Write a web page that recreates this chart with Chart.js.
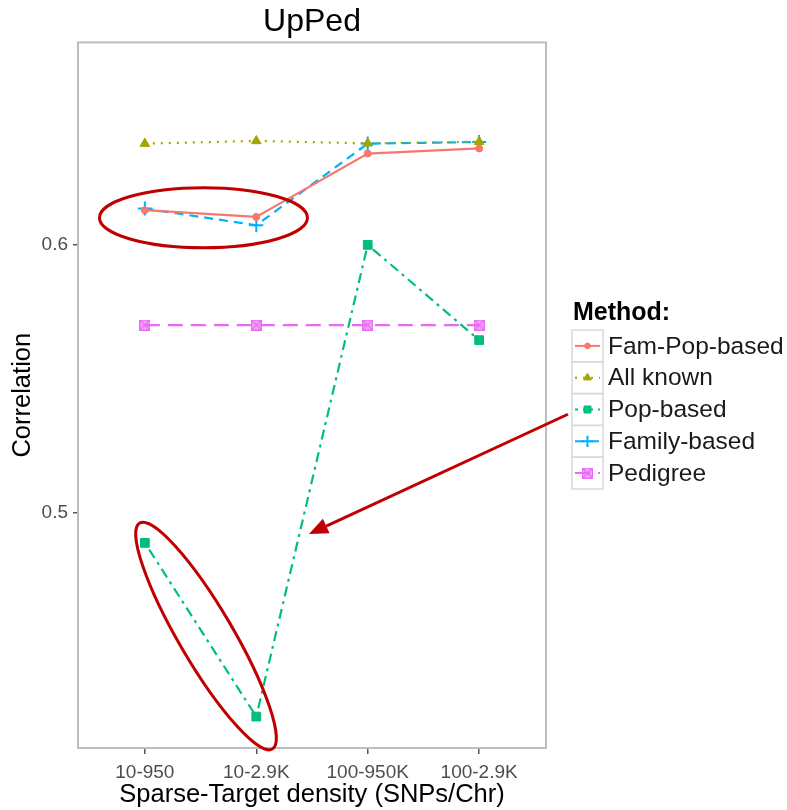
<!DOCTYPE html>
<html>
<head>
<meta charset="utf-8">
<script src="https://cdn.jsdelivr.net/npm/chart.js@4.4.0/dist/chart.umd.min.js"></script>
<style>
html, body { margin: 0; padding: 0; background: #fff; }
</style>
</head>
<body>
<canvas id="lineChart" width="787" height="810"></canvas>
<script>
// Data
const densities   = ['10-950', '10-2.9K', '100-950K', '100-2.9K'];
const methods     = ['Fam-Pop-based', 'All known', 'Pop-based', 'Family-based', 'Pedigree'];
const famPop      = [0.6127, 0.6102, 0.6338, 0.6357];
const allKnown    = [0.6375, 0.6385, 0.6376, 0.6382];
const popBased    = [0.4888, 0.4241, 0.5998, 0.5643];
const familyBased = [0.6133, 0.6071, 0.6375, 0.6381];
const pedigree    = [0.5699, 0.5699, 0.5699, 0.5699];
const yTicks      = [0.5, 0.6];

// ggplot default hues
const colors = ['#F8766D', '#A3A500', '#00BF7D', '#00B0F6', '#E76BF3'];
const annotRed = '#c00000';
const fontFam = '"Liberation Sans", Arial, sans-serif';

// Pedigree marker: boxed cross
function boxCross() {
    var c = document.createElement('canvas');
    c.width = 11; c.height = 11;
    var g = c.getContext('2d');
    g.fillStyle = 'rgba(231,107,243,0.6)';
    g.fillRect(0, 0, 11, 11);
    g.strokeStyle = '#E76BF3';
    g.lineWidth = 1.2;
    g.strokeRect(0.5, 0.5, 10, 10);
    g.beginPath();
    g.moveTo(1, 1); g.lineTo(10, 10);
    g.moveTo(10, 1); g.lineTo(1, 10);
    g.stroke();
    return c;
}

function pts(values) {
    return values.map(function(v, i) { return { x: i, y: v }; });
}

const styles = [
    { dash: [],             point: 'circle',   radius: 3.5, bw: 1 },
    { dash: [2, 6],         point: 'triangle', radius: 5.5, bw: 1 },
    { dash: [3, 5, 10, 5],  point: 'rect',     radius: 6.2, bw: 1 },
    { dash: [9, 6],         point: 'cross',    radius: 7,   bw: 2 },
    { dash: [15, 8],        point: boxCross(), radius: 6,   bw: 1 }
];
const series = [famPop, allKnown, popBased, familyBased, pedigree];

const datasets = series.map(function(values, k) {
    return {
        label: methods[k],
        data: pts(values),
        borderColor: colors[k],
        backgroundColor: colors[k],
        borderWidth: 2.2,
        borderDash: styles[k].dash,
        pointStyle: styles[k].point,
        pointRadius: styles[k].radius,
        pointBorderWidth: styles[k].bw,
        pointBorderColor: colors[k],
        pointBackgroundColor: colors[k],
        tension: 0,
        fill: false
    };
});

// Panel border, annotations and legend
const extras = {
    id: 'extras',
    afterDraw: function(chart) {
        var ctx = chart.ctx;
        var a = chart.chartArea;
        var xs = chart.scales.x, ys = chart.scales.y;

        // panel border
        ctx.save();
        ctx.strokeStyle = '#bdbdbd';
        ctx.lineWidth = 2;
        ctx.strokeRect(a.left, a.top, a.right - a.left, a.bottom - a.top);
        ctx.restore();

        // red ellipses
        ctx.save();
        ctx.strokeStyle = annotRed;
        ctx.lineWidth = 3;
        ctx.beginPath();
        ctx.ellipse(xs.getPixelForValue(0.526), ys.getPixelForValue(0.6099), 104, 30, 0, 0, Math.PI * 2);
        ctx.stroke();
        ctx.beginPath();
        ctx.ellipse(xs.getPixelForValue(0.549), ys.getPixelForValue(0.4541), 131, 27, 1.04, 0, Math.PI * 2);
        ctx.stroke();

        // arrow
        var x0 = xs.getPixelForValue(3.797), y0 = ys.getPixelForValue(0.5367);
        var x1 = xs.getPixelForValue(1.473), y1 = ys.getPixelForValue(0.4921);
        var ang = Math.atan2(y1 - y0, x1 - x0);
        var hl = 19, hw = 8;
        var bx = x1 - hl * Math.cos(ang), by = y1 - hl * Math.sin(ang);
        ctx.beginPath();
        ctx.moveTo(x0, y0);
        ctx.lineTo(bx, by);
        ctx.stroke();
        ctx.fillStyle = annotRed;
        ctx.beginPath();
        ctx.moveTo(x1, y1);
        ctx.lineTo(bx + hw * Math.sin(ang), by - hw * Math.cos(ang));
        ctx.lineTo(bx - hw * Math.sin(ang), by + hw * Math.cos(ang));
        ctx.closePath();
        ctx.fill();
        ctx.restore();

        // legend
        var lx = a.right + 26, top = 330, rowH = 31.8;
        ctx.save();
        ctx.fillStyle = '#000';
        ctx.font = 'bold 25px ' + fontFam;
        ctx.textBaseline = 'middle';
        ctx.fillText('Method:', lx + 1, 313);
        ctx.font = '24.5px ' + fontFam;
        datasets.forEach(function(ds, k) {
            var y = top + k * rowH;
            var cy = y + rowH / 2;
            ctx.strokeStyle = '#d9d9d9';
            ctx.lineWidth = 1.5;
            ctx.setLineDash([]);
            ctx.strokeRect(lx, y, 31, rowH);
            ctx.strokeStyle = ds.borderColor;
            ctx.lineWidth = 2;
            ctx.setLineDash(ds.borderDash);
            ctx.beginPath();
            ctx.moveTo(lx + 3, cy);
            ctx.lineTo(lx + 28, cy);
            ctx.stroke();
            ctx.setLineDash([]);
            ctx.fillStyle = ds.borderColor;
            ctx.lineWidth = ds.pointBorderWidth;
            Chart.helpers.drawPoint(ctx, {
                pointStyle: ds.pointStyle,
                radius: ds.pointRadius * 0.8,
                rotation: 0,
                borderWidth: ds.pointBorderWidth
            }, lx + 15.5, cy);
            ctx.fillStyle = '#1a1a1a';
            ctx.fillText(ds.label, lx + 36, cy + 1);
        });
        ctx.restore();
    }
};

const ctx = document.getElementById('lineChart').getContext('2d');
const lineChart = new Chart(ctx, {
    type: 'line',
    data: { datasets: datasets },
    options: {
        responsive: false,
        animation: false,
        devicePixelRatio: 1,
        layout: { padding: { left: 0, right: 241, top: 1, bottom: 0 } },
        plugins: {
            legend: { display: false },
            tooltip: { enabled: false },
            title: {
                display: true,
                text: 'UpPed',
                fullSize: false,
                color: '#000',
                font: { family: fontFam, size: 32, weight: 'normal' },
                padding: { top: 2, bottom: 1 }
            }
        },
        scales: {
            x: {
                type: 'linear',
                min: -0.6,
                max: 3.6,
                afterBuildTicks: function(scale) {
                    scale.ticks = densities.map(function(_, i) { return { value: i }; });
                },
                afterFit: function(scale) { scale.height = 62; },
                ticks: {
                    autoSkip: false,
                    maxRotation: 0,
                    padding: 7,
                    color: '#4d4d4d',
                    font: { family: fontFam, size: 19 },
                    callback: function(v) { return densities[v]; }
                },
                grid: { drawOnChartArea: false, drawTicks: true, tickLength: 6, color: '#555', lineWidth: 1.5 },
                border: { display: false },
                title: {
                    display: true,
                    text: 'Sparse-Target density (SNPs/Chr)',
                    color: '#000',
                    font: { family: fontFam, size: 25.5 },
                    padding: { top: 0, bottom: 0 }
                }
            },
            y: {
                type: 'linear',
                min: 0.4124,
                max: 0.6752,
                afterBuildTicks: function(scale) {
                    scale.ticks = yTicks.map(function(v) { return { value: v }; });
                },
                afterFit: function(scale) { scale.width = 78; },
                ticks: {
                    padding: 5,
                    color: '#4d4d4d',
                    font: { family: fontFam, size: 19 },
                    callback: function(v) { return v.toFixed(1); }
                },
                grid: { drawOnChartArea: false, drawTicks: true, tickLength: 5, color: '#555', lineWidth: 1.5 },
                border: { display: false },
                title: {
                    display: true,
                    text: 'Correlation',
                    color: '#000',
                    font: { family: fontFam, size: 25.5 },
                    padding: { top: 8, bottom: 0 }
                }
            }
        }
    },
    plugins: [extras]
});
</script>
</body>
</html>
